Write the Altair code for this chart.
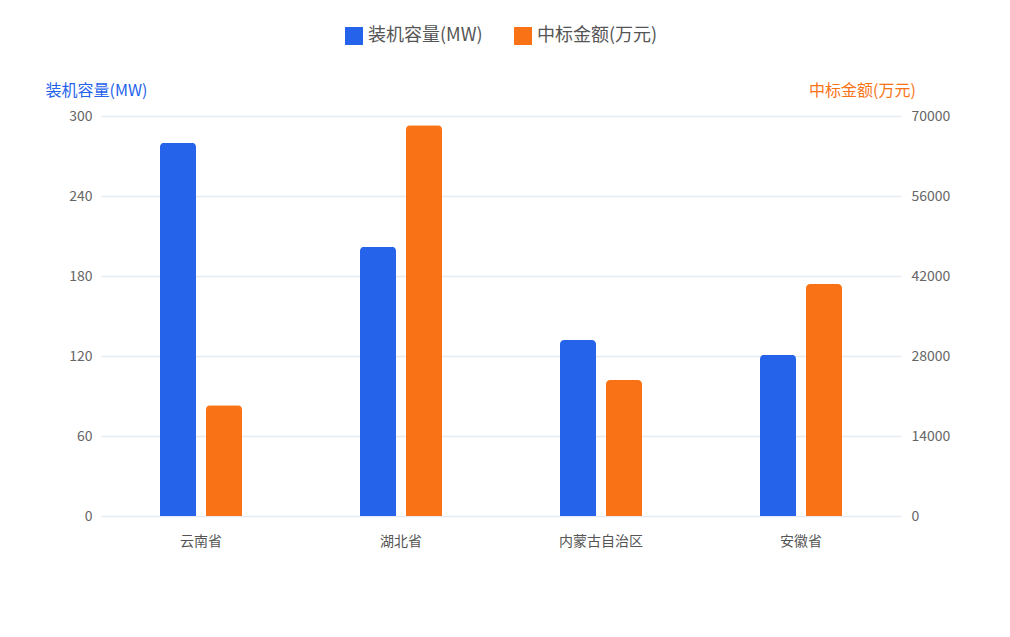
import altair as alt
import pandas as pd

provinces = ["云南省", "湖北省", "内蒙古自治区", "安徽省"]
capacity_mw = [280, 202, 132, 121]
bid_amount = [19400, 68400, 23800, 40600]

series = ["装机容量(MW)", "中标金额(万元)"]
colors = ["#2563EB", "#F97316"]

df = pd.DataFrame({"省份": provinces, "装机容量": capacity_mw, "中标金额": bid_amount})

FONT = "Noto Sans CJK SC"

x_enc = alt.X(
    "省份:N",
    sort=provinces,
    scale=alt.Scale(paddingInner=0.5, paddingOuter=0.25),
    axis=alt.Axis(title=None, labelAngle=0, labelFontSize=14, labelColor="#555555",
                  labelPadding=18, ticks=False, domain=False, labelFont=FONT),
)

color_scale = alt.Scale(domain=series, range=colors)
legend = alt.Legend(
    title=None, orient="none", legendX=244, legendY=-89, direction="horizontal",
    symbolType="square", symbolSize=324, symbolStrokeWidth=0,
    labelFontSize=18, labelColor="#555555", labelFont=FONT,
    labelOffset=5, columnPadding=31,
)

left = alt.Chart(df).transform_calculate(系列="'" + series[0] + "'").mark_bar(
    width=36, xOffset=-23, cornerRadiusTopLeft=4, cornerRadiusTopRight=4
).encode(
    x=x_enc,
    y=alt.Y("装机容量:Q", scale=alt.Scale(domain=[0, 300]),
            axis=alt.Axis(values=[0, 60, 120, 180, 240, 300], title="装机容量(MW)",
                          format="d",
                          titleAngle=0, titleX=-5, titleY=-26, titleAlign="center",
                          titleBaseline="middle", titleColor="#2563EB", titleFontSize=16,
                          titleFontWeight="normal", titleFont=FONT,
                          labelFontSize=14, labelColor="#666666", labelPadding=9,
                          labelFont=FONT, ticks=False, domain=False,
                          grid=True, gridColor="#E6EAF1", gridWidth=1.3)),
    color=alt.Color("系列:N", scale=color_scale, legend=legend),
)

right = alt.Chart(df).transform_calculate(系列="'" + series[1] + "'").mark_bar(
    width=36, xOffset=23, cornerRadiusTopLeft=4, cornerRadiusTopRight=4
).encode(
    x=x_enc,
    y=alt.Y("中标金额:Q", scale=alt.Scale(domain=[0, 70000]),
            axis=alt.Axis(orient="right", values=[0, 14000, 28000, 42000, 56000, 70000],
                          format="d",
                          title="中标金额(万元)", titleAngle=0, titleX=-39, titleY=-26,
                          titleAlign="center", titleBaseline="middle", titleColor="#F97316",
                          titleFontSize=16, titleFontWeight="normal", titleFont=FONT,
                          labelFontSize=14, labelColor="#666666", labelPadding=10,
                          labelFont=FONT, ticks=False, domain=False, grid=False)),
    color=alt.Color("系列:N", scale=color_scale, legend=legend),
)

chart = alt.layer(left, right).resolve_scale(y="independent").properties(
    width=800, height=400,
    autosize=alt.AutoSizeParams(type="none"),
    padding={"left": 93, "top": 108, "right": 100, "bottom": 100},
    background="white",
).configure(font=FONT).configure_view(strokeWidth=0, stroke="transparent")

chart.save("out.html", embed_options={"renderer": "svg", "actions": False})
